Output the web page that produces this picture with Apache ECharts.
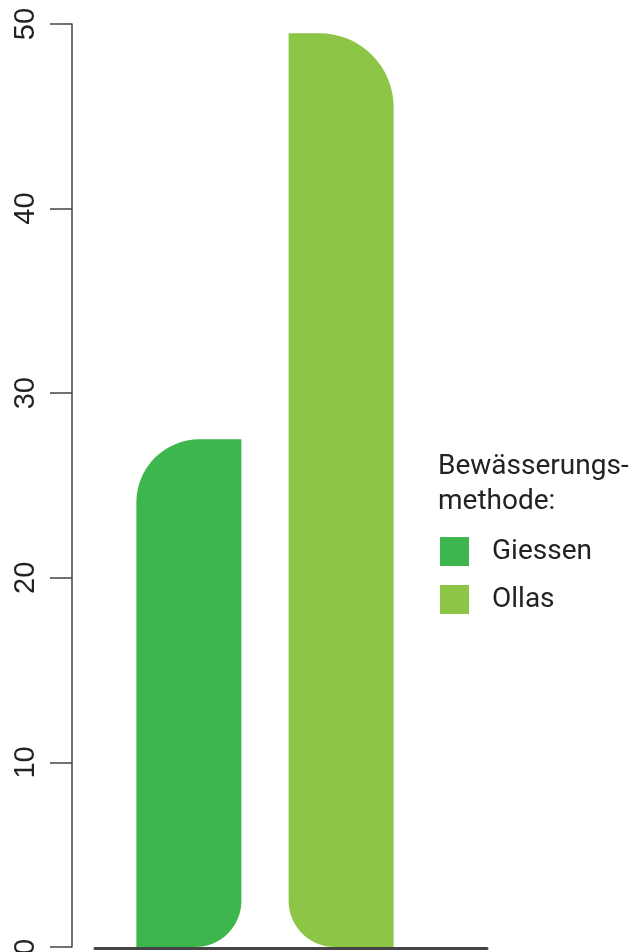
<!DOCTYPE html>
<html>
<head>
<meta charset="utf-8">
<script src="https://cdn.jsdelivr.net/npm/echarts@6/dist/echarts.min.js"></script>
<style>html,body{margin:0;padding:0;background:#fff}#c{width:639px;height:952px}</style>
</head>
<body>
<div id="c"></div>
<script>
var categories = [''];
var seriesNames = ['Giessen', 'Ollas'];
var giessenValues = [27.5];
var ollasValues = [49.5];
var yTicks = [0, 10, 20, 30, 40, 50];
var legendTitle = 'Bewässerungs-\nmethode:';

var chart = echarts.init(document.getElementById('c'), null, {renderer: 'canvas'});
chart.setOption({
  animation: false,
  backgroundColor: '#fff',
  title: {
    text: legendTitle,
    left: 438, top: 449,
    padding: 0,
    textStyle: {fontFamily: 'Roboto', fontSize: 28, fontWeight: 'normal', color: '#222', lineHeight: 35}
  },
  legend: {
    orient: 'vertical', left: 440, top: 537, padding: 0,
    itemWidth: 29, itemHeight: 29, itemGap: 19, icon: 'rect',
    data: seriesNames,
    textStyle: {fontFamily: 'Roboto', fontSize: 28, color: '#222', padding: [0, 0, 0, 18]}
  },
  grid: [
    {left: 95, right: 204, top: 24, bottom: 5, containLabel: false, outerBoundsMode: 'none'},
    {left: 95, right: 152, top: 24, bottom: 3.5, containLabel: false, outerBoundsMode: 'none'}
  ],
  xAxis: [
    {type: 'category', gridIndex: 0, data: categories, axisLine: {show: false}, axisTick: {show: false}, axisLabel: {show: false}},
    {type: 'category', gridIndex: 1, data: categories, axisLine: {show: true, lineStyle: {color: '#444', width: 3}}, axisTick: {show: false}, axisLabel: {show: false}}
  ],
  yAxis: [
    {type: 'value', gridIndex: 0, min: 0, max: 50, interval: 10, offset: 23,
     axisLine: {show: true, lineStyle: {color: '#444', width: 1.5}},
     axisTick: {show: true, length: 22, lineStyle: {color: '#444', width: 1.5}},
     splitLine: {show: false},
     axisLabel: {rotate: 90, margin: 32, fontFamily: 'Liberation Sans', fontSize: 29, color: '#222',
       formatter: function (v) { return yTicks.indexOf(v) >= 0 ? String(v) : ''; }}},
    {type: 'value', gridIndex: 1, min: 0, max: 50, show: false}
  ],
  series: [
    {name: seriesNames[0], type: 'bar', xAxisIndex: 0, yAxisIndex: 0, data: giessenValues,
     barWidth: 105, barGap: '45%',
     itemStyle: {color: '#3cb64d', borderRadius: [63, 0, 46, 0]}},
    {name: seriesNames[1], type: 'bar', xAxisIndex: 0, yAxisIndex: 0, data: ollasValues,
     barWidth: 105, barGap: '45%',
     itemStyle: {color: '#8dc646', borderRadius: [0, 74, 0, 46]}}
  ]
});
</script>
</body>
</html>
